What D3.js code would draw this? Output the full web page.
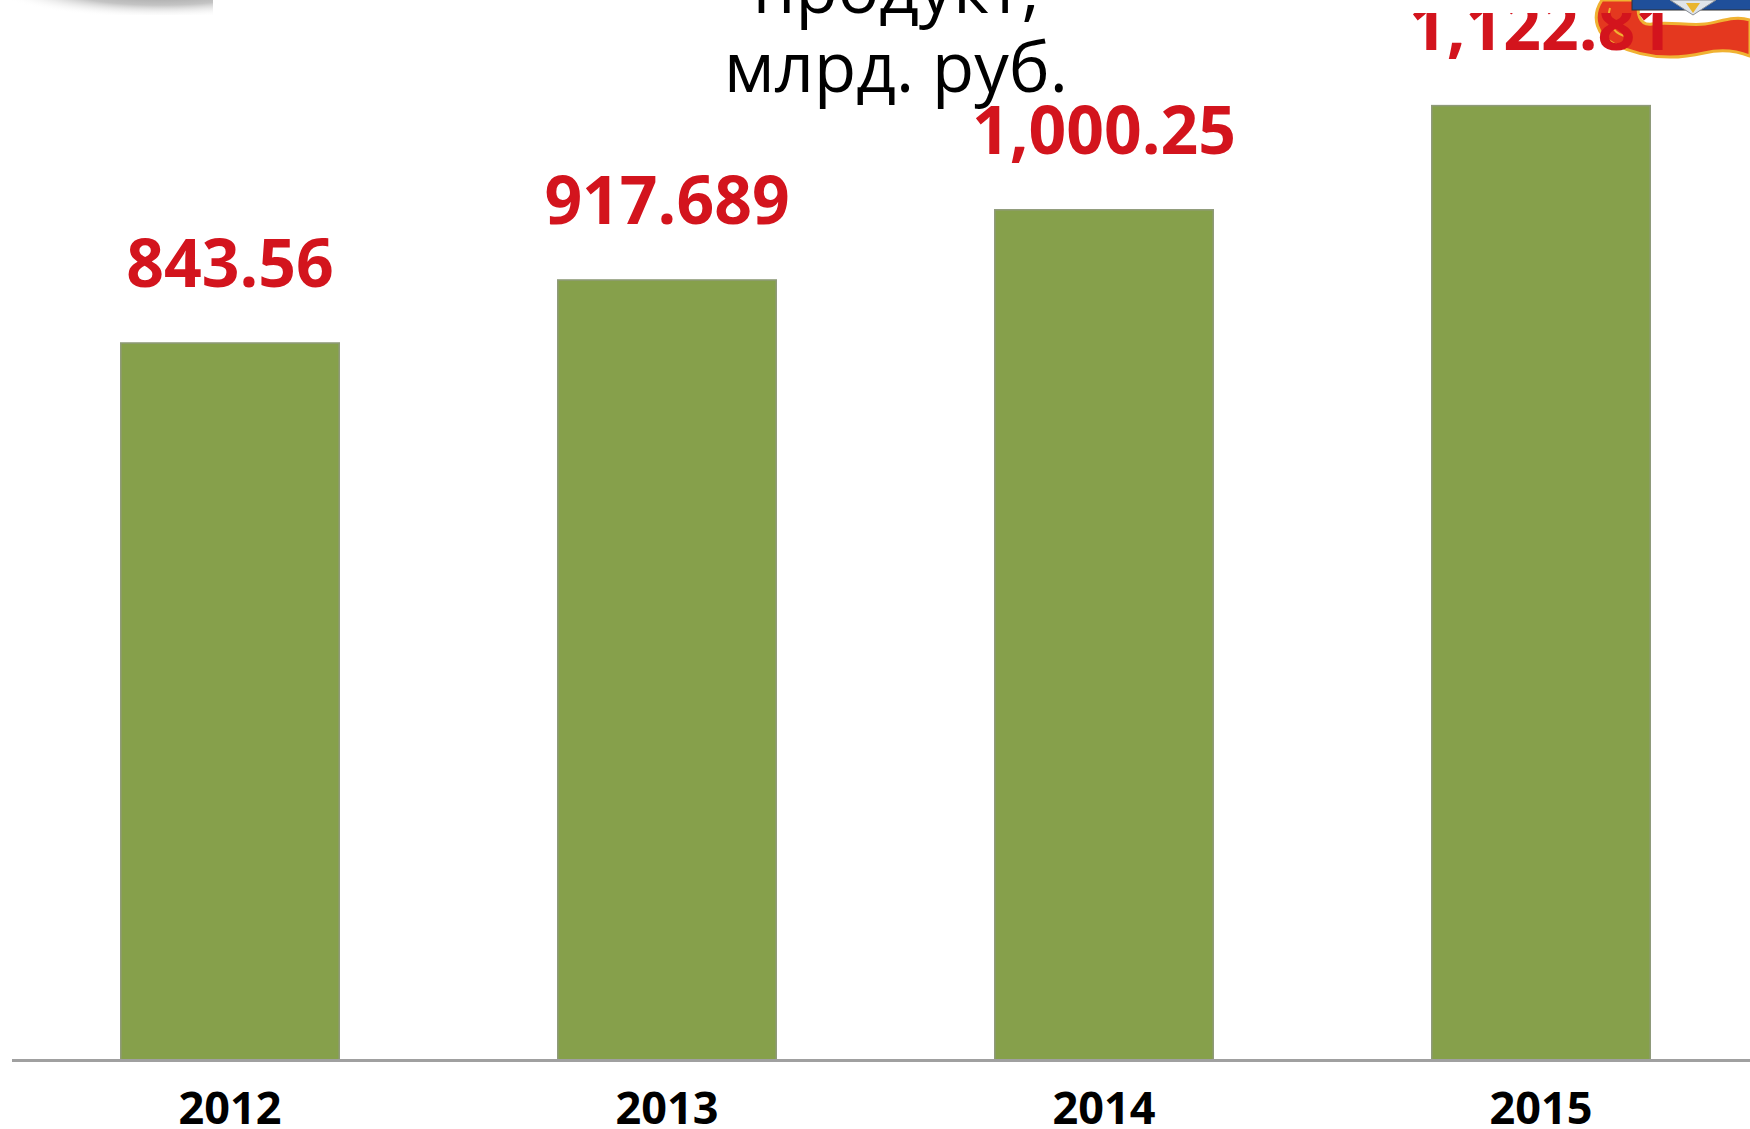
<!DOCTYPE html>
<html>
<head>
<meta charset="utf-8">
<script src="https://cdn.jsdelivr.net/npm/d3@7"></script>
<style>
  html, body { margin: 0; padding: 0; background: #fff; }
  svg { display: block; }
</style>
</head>
<body>
<div id="chart"></div>
<script>
// data
const years = ["2012", "2013", "2014", "2015"]
const values = [843.56, 917.689, 1000.25, 1122.81]
const valueLabels = ["843.56", "917.689", "1,000.25", "1,122.81"]
const titleLines = ["продукт,", "млрд. руб."]

// const
const width = 1750
const height = 1129
const baseY = 1060

const svg = d3.select("#chart")
  .append("svg")
    .attr("width", width)
    .attr("height", height)

const defs = svg.append("defs")

// shadow of the logo cut off in the top left corner
const grad = defs.append("radialGradient").attr("id", "shadowGrad")
grad.append("stop").attr("offset", "0%").attr("stop-color", "#8a8a8a")
grad.append("stop").attr("offset", "60%").attr("stop-color", "#c4c4c4")
grad.append("stop").attr("offset", "100%").attr("stop-color", "#fff").attr("stop-opacity", 0)
defs.append("clipPath").attr("id", "shadowClip")
  .append("rect").attr("x", 0).attr("y", 0).attr("width", 213).attr("height", 15)
svg.append("ellipse")
  .attr("clip-path", "url(#shadowClip)")
  .attr("cx", 160).attr("cy", -14).attr("rx", 170).attr("ry", 32)
  .attr("fill", "url(#shadowGrad)")

// x / y
const x = d3.scaleBand()
  .domain(years)
  .range([11.5, 1759.5])
  .paddingInner(0.5)
  .paddingOuter(0.25)

const y = d3.scaleLinear()
  .domain([0, 1200])
  .range([baseY, 40])

// bars
svg.append("g").attr("id", "bars")
  .selectAll("rect")
  .data(years)
  .join("rect")
    .attr("x", d => x(d))
    .attr("y", (d, i) => y(values[i]))
    .attr("width", x.bandwidth())
    .attr("height", (d, i) => baseY - y(values[i]))
    .attr("fill", "#86a04b")
    .attr("stroke", "#8f9a7a")
    .attr("stroke-width", 1.5)

// axis
const xAxis = d3.axisBottom(x).tickSize(0).tickSizeOuter(0)
const xAxisGroup = svg.append("g")
  .attr("id", "xAxisGroup")
  .attr("transform", `translate(0, ${baseY})`)
  .call(xAxis)
xAxisGroup.select(".domain")
  .attr("stroke", "#a0a0a0")
  .attr("stroke-width", 3)
xAxisGroup.selectAll("text")
  .attr("y", 64)
  .attr("dy", 0)
  .attr("fill", "#000")
  .style("font-family", "'Open Sans', sans-serif")
  .style("font-weight", "bold")
  .style("font-size", "45px")

// emblem in the top right corner (partly cut off)
const emblem = svg.append("g").attr("id", "emblem")
emblem.append("path")
  .attr("d", "M1602,0 C1590,18 1598,36 1614,44 C1642,58 1674,60 1704,53 C1724,48 1740,52 1750,56 L1750,20 C1734,15 1720,22 1705,24 C1688,26 1668,21 1652,24 C1640,26 1634,12 1642,0 Z")
  .attr("fill", "#e4381f")
  .attr("stroke", "#f0b232")
  .attr("stroke-width", 3)
emblem.append("path")
  .attr("d", "M1610,8 C1606,20 1612,32 1624,36")
  .attr("fill", "none")
  .attr("stroke", "#f0b232")
  .attr("stroke-width", 2)
emblem.append("rect")
  .attr("x", 1632).attr("y", -3).attr("width", 125).attr("height", 13)
  .attr("fill", "#1f4f9a").attr("stroke", "#333").attr("stroke-width", 1)
emblem.append("path")
  .attr("d", "M1670,0 L1693,15 L1716,0 Z")
  .attr("fill", "#dfe4ea").attr("stroke", "#8a8f96")
emblem.append("path")
  .attr("d", "M1686,3 L1693,13 L1700,3 Z")
  .attr("fill", "#e9b52e")

// value labels (top of last one is hidden)
defs.append("clipPath").attr("id", "labelClip")
  .append("rect").attr("x", 0).attr("y", 13).attr("width", width).attr("height", height)
svg.append("g").attr("id", "labels")
  .attr("clip-path", "url(#labelClip)")
  .selectAll("text")
  .data(years)
  .join("text")
    .attr("x", d => x(d) + x.bandwidth() / 2)
    .attr("y", (d, i) => y(values[i]) - 56)
    .attr("text-anchor", "middle")
    .attr("fill", "#d3141d")
    .style("font-family", "'Open Sans', sans-serif")
    .style("font-weight", "bold")
    .style("font-size", "66px")
    .text((d, i) => valueLabels[i])

// title (upper lines are outside the picture)
svg.append("text").attr("id", "title")
  .attr("text-anchor", "middle")
  .attr("fill", "#000")
  .style("font-family", "'Open Sans', sans-serif")
  .style("font-size", "69px")
  .selectAll("tspan")
  .data(titleLines)
  .join("tspan")
    .attr("x", 896)
    .attr("y", (d, i) => 13 + i * 79)
    .text(d => d)
</script>
</body>
</html>
